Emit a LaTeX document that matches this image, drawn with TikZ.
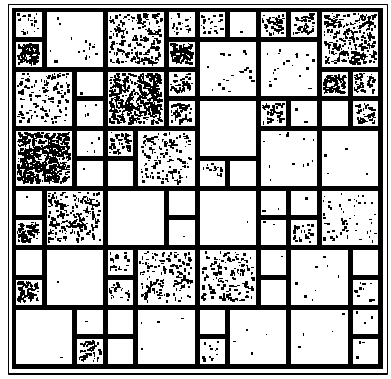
\documentclass[tikz,border=0pt]{standalone}
\begin{document}
\begin{tikzpicture}[x=1pt, y=-1pt, line join=round, line cap=round, declare function={cx(\c) = 16+30.6*\c; cy(\r) = 12+29.75*\r;}]
	\def \pitchx{30.6}
	\def \pitchy{29.75}
	\def \gap{5}
	\pgfmathsetseed{17}
	\useasboundingbox (0,0) rectangle (391,378);
	\fill[white] (0,0) rectangle (391,378);
	\draw[line width=1.6pt] (8.5,4.5) rectangle (387.5,374);
	\fill (12,8) rectangle (383,369);
	\foreach \c/\r/\s/\d in {0/0/1/20, 0/1/1/120, 1/0/2/4, 3/0/2/55, 5/0/1/22, 5/1/1/120, 6/0/1/22, 7/0/1/1, 8/0/1/50, 9/0/1/50, 10/0/2/75, 6/1/2/5, 8/1/2/5, 10/2/1/100, 11/2/1/55,
		0/2/2/35, 2/2/1/1, 2/3/1/4, 3/2/2/120, 5/2/1/50, 5/3/1/55, 6/3/2/0, 8/3/1/50, 9/3/1/2, 10/3/1/0, 11/3/1/50,
		0/4/2/160, 2/4/1/4, 2/5/1/1, 3/4/1/50, 3/5/1/0, 4/4/2/35, 6/5/1/14, 7/5/1/0, 8/4/2/3, 10/4/2/1,
		0/6/1/1, 0/7/1/95, 1/6/2/55, 3/6/2/0, 5/6/1/0, 5/7/1/1, 6/6/2/0.3, 8/6/1/2, 8/7/1/2, 9/6/1/1, 9/7/1/24, 10/6/2/14,
		0/8/1/0, 0/9/1/90, 1/8/2/0.3, 3/8/1/24, 3/9/1/24, 4/8/2/40, 6/8/2/40, 8/8/1/1, 8/9/1/0, 9/8/2/2, 11/8/1/0, 11/9/1/12,
		0/10/2/0.3, 2/10/1/1, 2/11/1/50, 3/10/1/0, 3/11/1/0, 4/10/2/1, 6/10/1/0, 6/11/1/14, 7/10/2/1, 9/10/2/1, 11/10/1/3, 11/11/1/3}{
		\pgfmathsetmacro\xa{cx(\c)}
		\pgfmathsetmacro\ya{cy(\r)}
		\pgfmathsetmacro\w{\pitchx*\s-\gap}
		\pgfmathsetmacro\h{\pitchy*\s-\gap}
		\fill[white] (\xa,\ya) rectangle ++(\w,\h);
		\pgfmathtruncatemacro\n{\d*\s*\s}
		\ifnum\n>0
			\foreach \k in {1,...,\n}{
				\pgfmathsetmacro\px{\xa+1+rnd*(\w-5)}
				\pgfmathsetmacro\py{\ya+1+rnd*(\h-5)}
				\pgfmathsetmacro\dw{1+rnd*2.4}
				\pgfmathsetmacro\dh{1+rnd*2.4}
				\fill (\px,\py) rectangle ++(\dw,\dh);
			}
		\fi
	}
\end{tikzpicture}
\end{document}
